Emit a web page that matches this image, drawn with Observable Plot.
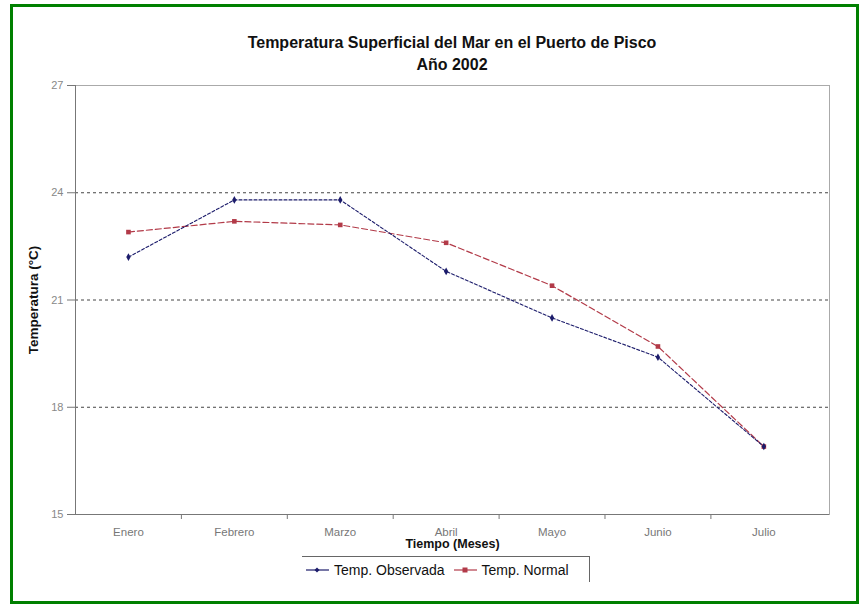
<!DOCTYPE html>
<html>
<head>
<meta charset="utf-8">
<script src="https://cdn.jsdelivr.net/npm/d3@7"></script>
<script src="https://cdn.jsdelivr.net/npm/@observablehq/plot@0.6"></script>
<style>
  html, body { margin: 0; padding: 0; background: #fff; }
  #wrap { position: relative; width: 862px; height: 605px; overflow: hidden; font-family: "Liberation Sans", Arial, sans-serif; }
  #border { position: absolute; left: 10px; top: 4px; width: 843px; height: 594px; border: 3px solid #008000; }
  #chart { position: absolute; left: 0; top: 0; }
  .title { position: absolute; left: 75px; width: 754px; text-align: center; font-weight: bold; font-size: 16px; color: #111; }
  #legend { position: absolute; left: 302px; top: 556px; width: 287px; height: 25px; border-top: 1px solid #666; border-right: 1px solid #666; font-size: 14px; color: #111; display: flex; align-items: center; white-space: nowrap; }
  #legend span { margin-right: 6px; }
  #legend svg { vertical-align: middle; }
</style>
</head>
<body>
<div id="wrap">
  <div id="border"></div>
  <div id="chart"></div>
  <div class="title" style="top:34px">Temperatura Superficial del Mar en el Puerto de Pisco</div>
  <div class="title" style="top:56px">Año 2002</div>
  <div id="legend"></div>
</div>
<script>
const meses = ["Enero", "Febrero", "Marzo", "Abril", "Mayo", "Junio", "Julio"];
const observada = [22.2, 23.8, 23.8, 21.8, 20.5, 19.4, 16.9];
const normal = [22.9, 23.2, 23.1, 22.6, 21.4, 19.7, 16.9];
const yTicks = [15, 18, 21, 24, 27];
const gridTicks = [18, 21, 24];
const seriesNames = ["Temp. Observada", "Temp. Normal"];
const colors = ["#1c1c6b", "#b23a48"];

const idx = meses.map((m, i) => i);
const edgeTicks = idx.slice(0, -1).map(i => i + 0.5);
const obsRows = meses.map((m, i) => ({i, v: observada[i]}));
const normRows = meses.map((m, i) => ({i, v: normal[i]}));

const chart = Plot.plot({
  width: 862,
  height: 605,
  marginTop: 85,
  marginBottom: 91,
  marginLeft: 75,
  marginRight: 33,
  style: {fontFamily: "Liberation Sans, Arial, sans-serif", background: "transparent", overflow: "visible"},
  x: {type: "linear", domain: [-0.5, 6.62], label: null},
  y: {type: "linear", domain: [15, 27], label: null},
  marks: [
    Plot.gridY(gridTicks, {stroke: "#444", strokeOpacity: 1, strokeDasharray: "3,3"}),
    Plot.frame({stroke: "#aaa"}),
    Plot.axisY(yTicks, {tickSize: 8, tickPadding: 4, fontSize: 11, fill: "#888", stroke: "#777", label: null}),
    Plot.axisX(idx, {tickSize: 0, tickPadding: 13, fontSize: 11.5, fill: "#777", tickFormat: i => meses[i], label: null}),
    Plot.axisX(edgeTicks, {tickSize: 5, tickFormat: () => "", stroke: "#777", label: null}),
    Plot.ruleY([15], {stroke: "#777"}),
    Plot.ruleX([-0.5], {stroke: "#777"}),
    Plot.text(["Temperatura (°C)"], {frameAnchor: "left", textAnchor: "middle", dx: -42, rotate: -90, fontSize: 13.5, fontWeight: "bold", fill: "#111"}),
    Plot.text(["Tiempo (Meses)"], {frameAnchor: "bottom", dy: 33, fontSize: 12.5, fontWeight: "bold", fill: "#111"}),
    Plot.line(normRows, {x: "i", y: "v", stroke: colors[1], strokeWidth: 1.2, strokeDasharray: "6,3"}),
    Plot.line(obsRows, {x: "i", y: "v", stroke: colors[0], strokeWidth: 1.1, strokeDasharray: "3,2"}),
    Plot.dot(normRows, {x: "i", y: "v", symbol: "square", r: 2.6, fill: colors[1], stroke: "none"}),
    Plot.dot(obsRows, {x: "i", y: "v", symbol: "diamond", r: 2.3, fill: colors[0], stroke: "none"})
  ]
});
document.getElementById("chart").appendChild(chart);

const legend = document.getElementById("legend");
seriesNames.forEach((name, k) => {
  const sym = k === 0
    ? `<path d="M12,2.5 L14.5,5 L12,7.5 L9.5,5 Z" fill="${colors[0]}"/>`
    : `<rect x="9.5" y="2.5" width="5" height="5" fill="${colors[1]}"/>`;
  legend.insertAdjacentHTML("beforeend",
    `<svg width="26" height="10" style="margin-left:${k === 0 ? 3 : 2}px;margin-right:3px"><line x1="1" x2="24" y1="5" y2="5" stroke="${colors[k]}" stroke-width="1.2"/>${sym}</svg><span>${name}</span>`);
});
</script>
</body>
</html>
